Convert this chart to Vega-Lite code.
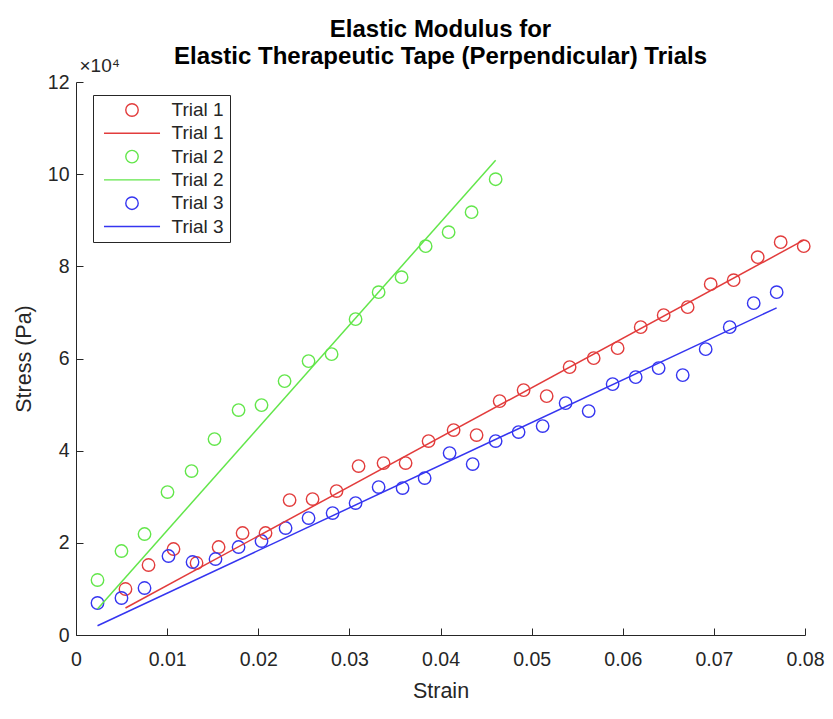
{
  "$schema": "https://vega.github.io/schema/vega-lite/v6.json",
  "width": 729,
  "height": 553,
  "autosize": {"type": "none"},
  "padding": {"left": 76, "top": 82, "right": 28, "bottom": 84},
  "background": "white",
  "config": {
    "view": {"stroke": null},
    "font": "Liberation Sans",
    "axis": {
      "domainColor": "#262626",
      "tickColor": "#262626",
      "labelColor": "#262626",
      "titleColor": "#262626",
      "labelFont": "Liberation Sans",
      "titleFont": "Liberation Sans",
      "labelFontSize": 19.5,
      "titleFontSize": 21.5,
      "titleFontWeight": "normal",
      "labelFlush": false,
      "grid": false,
      "tickSize": -7,
      "domainWidth": 1,
      "tickWidth": 1
    }
  },
  "title": {
    "text": ["Elastic Modulus for", "Elastic Therapeutic Tape (Perpendicular) Trials"],
    "fontSize": 24,
    "fontWeight": "bold",
    "color": "#000000",
    "font": "Liberation Sans",
    "anchor": "middle",
    "lineHeight": 27,
    "offset": -13
  },
  "datasets": {
    "pts": [
      {"strain": 0.00543, "stress": 9977, "series": "Trial 1 o"},
      {"strain": 0.00796, "stress": 15183, "series": "Trial 1 o"},
      {"strain": 0.01070, "stress": 18653, "series": "Trial 1 o"},
      {"strain": 0.01323, "stress": 15617, "series": "Trial 1 o"},
      {"strain": 0.01565, "stress": 19087, "series": "Trial 1 o"},
      {"strain": 0.01828, "stress": 22124, "series": "Trial 1 o"},
      {"strain": 0.02080, "stress": 22124, "series": "Trial 1 o"},
      {"strain": 0.02344, "stress": 29282, "series": "Trial 1 o"},
      {"strain": 0.02596, "stress": 29498, "series": "Trial 1 o"},
      {"strain": 0.02859, "stress": 31234, "series": "Trial 1 o"},
      {"strain": 0.03101, "stress": 36656, "series": "Trial 1 o"},
      {"strain": 0.03375, "stress": 37307, "series": "Trial 1 o"},
      {"strain": 0.03617, "stress": 37307, "series": "Trial 1 o"},
      {"strain": 0.03869, "stress": 42079, "series": "Trial 1 o"},
      {"strain": 0.04144, "stress": 44465, "series": "Trial 1 o"},
      {"strain": 0.04396, "stress": 43380, "series": "Trial 1 o"},
      {"strain": 0.04649, "stress": 50755, "series": "Trial 1 o"},
      {"strain": 0.04912, "stress": 53141, "series": "Trial 1 o"},
      {"strain": 0.05165, "stress": 51839, "series": "Trial 1 o"},
      {"strain": 0.05417, "stress": 58129, "series": "Trial 1 o"},
      {"strain": 0.05681, "stress": 60081, "series": "Trial 1 o"},
      {"strain": 0.05944, "stress": 62250, "series": "Trial 1 o"},
      {"strain": 0.06197, "stress": 66805, "series": "Trial 1 o"},
      {"strain": 0.06449, "stress": 69408, "series": "Trial 1 o"},
      {"strain": 0.06712, "stress": 71143, "series": "Trial 1 o"},
      {"strain": 0.06965, "stress": 76132, "series": "Trial 1 o"},
      {"strain": 0.07217, "stress": 77000, "series": "Trial 1 o"},
      {"strain": 0.07481, "stress": 81988, "series": "Trial 1 o"},
      {"strain": 0.07733, "stress": 85242, "series": "Trial 1 o"},
      {"strain": 0.07986, "stress": 84374, "series": "Trial 1 o"},
      {"strain": 0.00236, "stress": 11930, "series": "Trial 2 o"},
      {"strain": 0.00499, "stress": 18220, "series": "Trial 2 o"},
      {"strain": 0.00752, "stress": 21907, "series": "Trial 2 o"},
      {"strain": 0.01004, "stress": 31017, "series": "Trial 2 o"},
      {"strain": 0.01268, "stress": 35572, "series": "Trial 2 o"},
      {"strain": 0.01520, "stress": 42512, "series": "Trial 2 o"},
      {"strain": 0.01784, "stress": 48803, "series": "Trial 2 o"},
      {"strain": 0.02036, "stress": 49887, "series": "Trial 2 o"},
      {"strain": 0.02289, "stress": 55093, "series": "Trial 2 o"},
      {"strain": 0.02552, "stress": 59431, "series": "Trial 2 o"},
      {"strain": 0.02805, "stress": 60949, "series": "Trial 2 o"},
      {"strain": 0.03068, "stress": 68540, "series": "Trial 2 o"},
      {"strain": 0.03321, "stress": 74397, "series": "Trial 2 o"},
      {"strain": 0.03573, "stress": 77650, "series": "Trial 2 o"},
      {"strain": 0.03837, "stress": 84374, "series": "Trial 2 o"},
      {"strain": 0.04089, "stress": 87411, "series": "Trial 2 o"},
      {"strain": 0.04341, "stress": 91749, "series": "Trial 2 o"},
      {"strain": 0.04605, "stress": 98906, "series": "Trial 2 o"},
      {"strain": 0.00236, "stress": 6941, "series": "Trial 3 o"},
      {"strain": 0.00499, "stress": 8025, "series": "Trial 3 o"},
      {"strain": 0.00752, "stress": 10194, "series": "Trial 3 o"},
      {"strain": 0.01015, "stress": 17135, "series": "Trial 3 o"},
      {"strain": 0.01279, "stress": 15834, "series": "Trial 3 o"},
      {"strain": 0.01531, "stress": 16484, "series": "Trial 3 o"},
      {"strain": 0.01784, "stress": 19087, "series": "Trial 3 o"},
      {"strain": 0.02036, "stress": 20389, "series": "Trial 3 o"},
      {"strain": 0.02300, "stress": 23208, "series": "Trial 3 o"},
      {"strain": 0.02552, "stress": 25377, "series": "Trial 3 o"},
      {"strain": 0.02816, "stress": 26462, "series": "Trial 3 o"},
      {"strain": 0.03068, "stress": 28631, "series": "Trial 3 o"},
      {"strain": 0.03321, "stress": 32101, "series": "Trial 3 o"},
      {"strain": 0.03584, "stress": 31884, "series": "Trial 3 o"},
      {"strain": 0.03826, "stress": 34053, "series": "Trial 3 o"},
      {"strain": 0.04100, "stress": 39476, "series": "Trial 3 o"},
      {"strain": 0.04353, "stress": 37090, "series": "Trial 3 o"},
      {"strain": 0.04605, "stress": 42079, "series": "Trial 3 o"},
      {"strain": 0.04857, "stress": 44031, "series": "Trial 3 o"},
      {"strain": 0.05121, "stress": 45332, "series": "Trial 3 o"},
      {"strain": 0.05373, "stress": 50321, "series": "Trial 3 o"},
      {"strain": 0.05626, "stress": 48586, "series": "Trial 3 o"},
      {"strain": 0.05889, "stress": 54442, "series": "Trial 3 o"},
      {"strain": 0.06142, "stress": 55960, "series": "Trial 3 o"},
      {"strain": 0.06394, "stress": 57912, "series": "Trial 3 o"},
      {"strain": 0.06658, "stress": 56394, "series": "Trial 3 o"},
      {"strain": 0.06910, "stress": 62033, "series": "Trial 3 o"},
      {"strain": 0.07174, "stress": 66805, "series": "Trial 3 o"},
      {"strain": 0.07437, "stress": 72011, "series": "Trial 3 o"},
      {"strain": 0.07689, "stress": 74397, "series": "Trial 3 o"}
    ],
    "fits": [
      {"strain": 0.00543, "stress": 5856, "series": "Trial 1 -"},
      {"strain": 0.07986, "stress": 85676, "series": "Trial 1 -"},
      {"strain": 0.00236, "stress": 5650, "series": "Trial 2 -"},
      {"strain": 0.04605, "stress": 103028, "series": "Trial 2 -"},
      {"strain": 0.00236, "stress": 2000, "series": "Trial 3 -"},
      {"strain": 0.07689, "stress": 71000, "series": "Trial 3 -"}
    ]
  },
  "layer": [
    {
      "data": {"name": "pts"},
      "mark": {"type": "point", "filled": false, "strokeWidth": 1.4, "size": 155, "opacity": 1},
      "encoding": {
        "x": {
          "field": "strain", "type": "quantitative",
          "scale": {"domain": [0, 0.08], "nice": false, "zero": false},
          "axis": {"title": "Strain", "values": [0, 0.01, 0.02, 0.03, 0.04, 0.05, 0.06, 0.07, 0.08], "format": "~g", "labelPadding": 22, "titlePadding": 12}
        },
        "y": {
          "field": "stress", "type": "quantitative",
          "scale": {"domain": [0, 120000], "nice": false},
          "axis": {"title": "Stress (Pa)", "values": [0, 20000, 40000, 60000, 80000, 100000, 120000], "labelExpr": "format(datum.value / 10000, 'd')", "labelPadding": 14, "titlePadding": 12}
        },
        "color": {
          "field": "series", "type": "nominal",
          "scale": {
            "domain": ["Trial 1 o", "Trial 1 -", "Trial 2 o", "Trial 2 -", "Trial 3 o", "Trial 3 -"],
            "range": ["#e23c3c", "#e23c3c", "#62e64a", "#62e64a", "#3535f0", "#3535f0"]
          },
          "legend": {
            "title": null,
            "orient": "none",
            "legendX": 17,
            "legendY": 13,
            "labelExpr": "slice(datum.label, 0, 7)",
            "labelFont": "Liberation Sans",
            "labelFontSize": 19,
            "labelColor": "#262626",
            "symbolSize": 155,
            "symbolStrokeWidth": 1.4,
            "symbolOffset": 24,
            "labelOffset": 30,
            "rowPadding": 3.3,
            "padding": 5.5,
            "strokeColor": "#262626",
            "fillColor": "#ffffff"
          }
        },
        "shape": {
          "field": "series", "type": "nominal",
          "scale": {
            "domain": ["Trial 1 o", "Trial 1 -", "Trial 2 o", "Trial 2 -", "Trial 3 o", "Trial 3 -"],
            "range": ["circle", "M-4.5,0L4.5,0", "circle", "M-4.5,0L4.5,0", "circle", "M-4.5,0L4.5,0"]
          }
        }
      }
    },
    {
      "data": {"name": "fits"},
      "mark": {"type": "line", "strokeWidth": 1.5},
      "encoding": {
        "x": {"field": "strain", "type": "quantitative"},
        "y": {
          "field": "stress", "type": "quantitative",
          "axis": {
            "orient": "right", "title": "×10⁴", "labels": false, "ticks": false, "domain": false,
            "titleAngle": 0, "titleAlign": "left", "titleBaseline": "alphabetic",
            "titleX": -726, "titleY": -11, "titleFontSize": 19
          }
        },
        "stroke": {
          "field": "series", "type": "nominal",
          "scale": {
            "domain": ["Trial 1 -", "Trial 2 -", "Trial 3 -"],
            "range": ["#e23c3c", "#62e64a", "#3535f0"]
          },
          "legend": null
        }
      }
    }
  ],
  "resolve": {"axis": {"y": "independent"}}
}
